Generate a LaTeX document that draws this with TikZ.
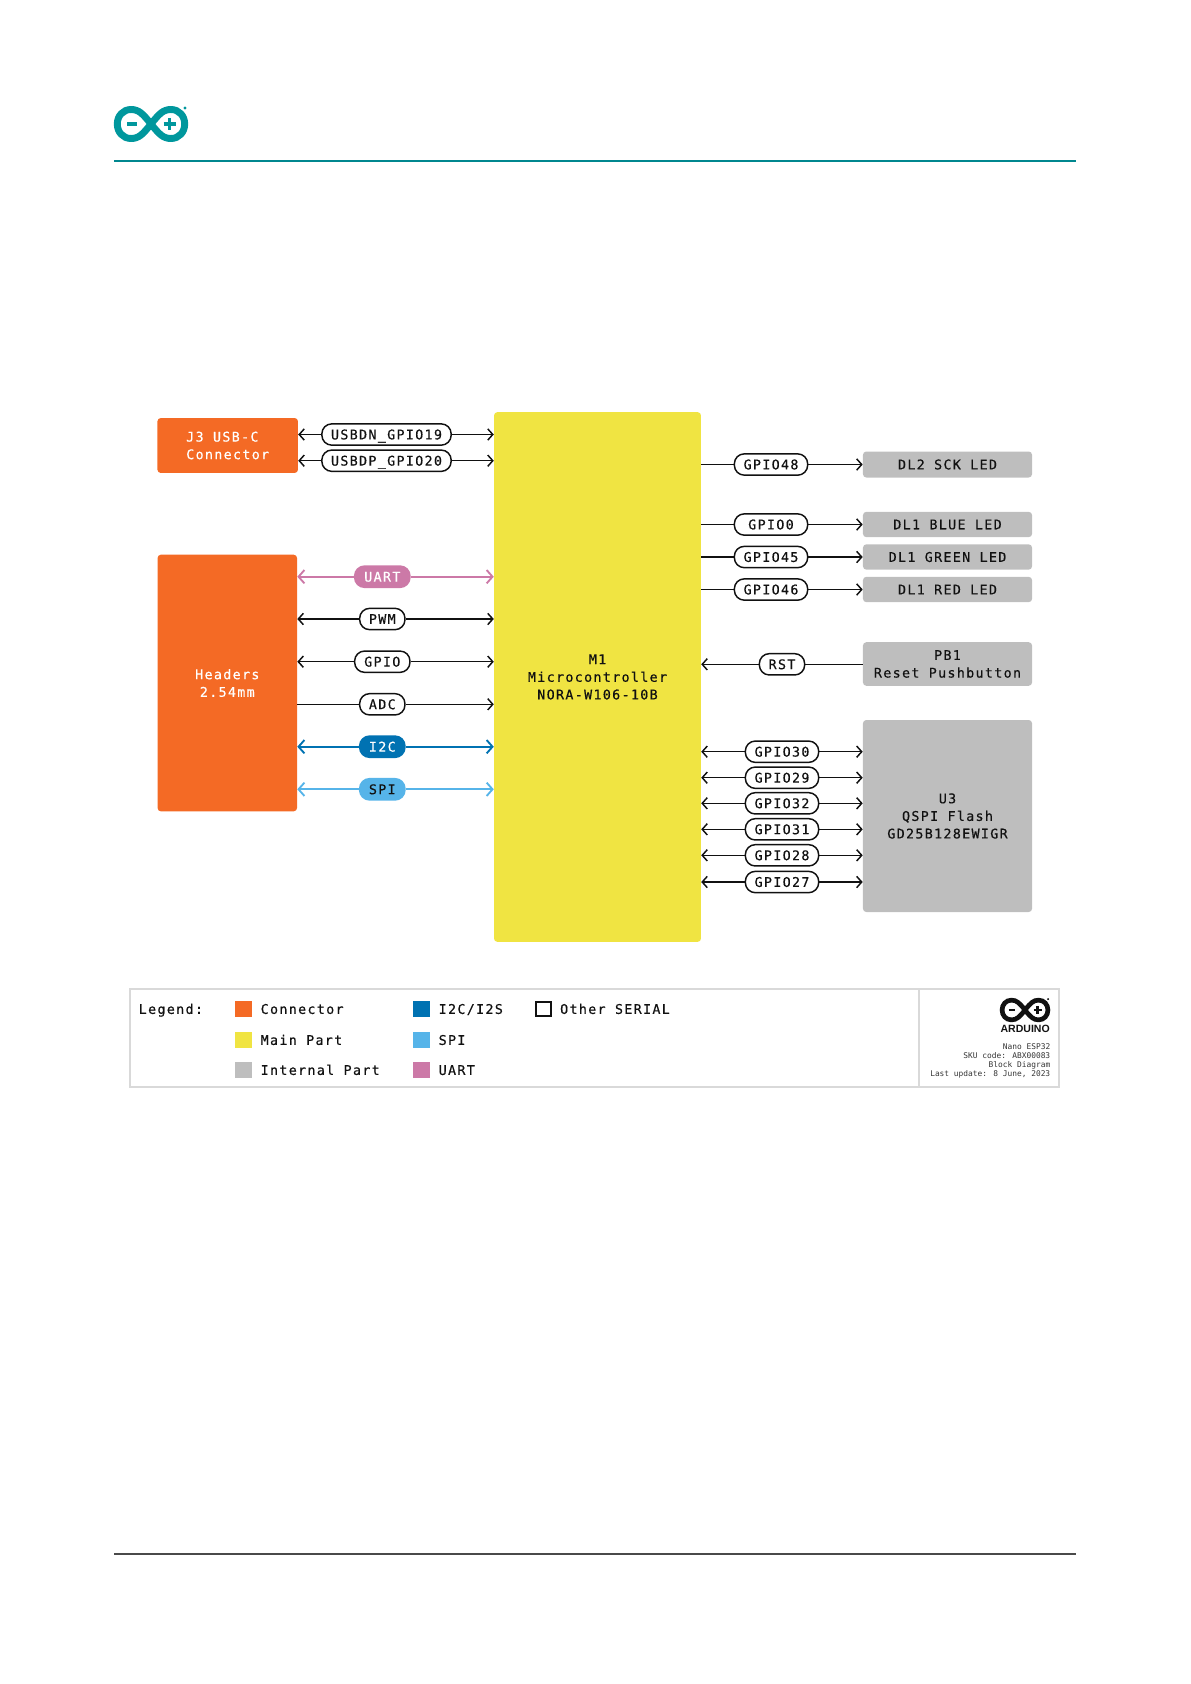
\documentclass[tikz,border=0pt]{standalone}
\usepackage{fontspec}
\usetikzlibrary{arrows.meta}
\setmainfont{Liberation Sans}
\newfontfamily\monofnt[LetterSpace=10,FakeBold=0.4]{DejaVu Sans Mono}
\newfontfamily\tinyfnt{DejaVu Sans Mono}
\definecolor{ardTeal}{HTML}{00979D}
\definecolor{ardRule}{HTML}{00878F}
\definecolor{ardInk}{HTML}{111111}
\definecolor{ardOrange}{HTML}{F46A25}
\definecolor{ardYellow}{HTML}{F0E442}
\definecolor{ardGrey}{HTML}{BEBEBE}
\definecolor{ardBlue}{HTML}{0072B2}
\definecolor{ardSky}{HTML}{56B4E9}
\definecolor{ardPink}{HTML}{CC79A7}
\definecolor{ardFrame}{HTML}{D9D9D9}
\definecolor{ardBase}{HTML}{4A4A4A}
\tikzset{
  prt/.style={rounded corners=2.5pt, inner sep=0pt, align=center, text=ardInk, font=\monofnt\fontsize{10}{13.2}\selectfont},
  prtO/.style={prt, fill=ardOrange, text=white},
  prtY/.style={prt, fill=ardYellow},
  prtG/.style={prt, fill=ardGrey},
  pill/.style={draw=ardInk, fill=white, line width=1.1pt, rounded corners=7.5pt, minimum height=16pt, inner sep=0pt, text height=7.3pt, text depth=0pt, text=ardInk, font=\monofnt\fontsize{10}{12}\selectfont},
  pillC/.style={pill, draw=#1, fill=#1},
  arr/.style={-{Straight Barb[length=3.8pt,width=8.5pt,line width=1.1pt]}, line width=1.1pt, draw=ardInk},
  arrC/.style={-{Straight Barb[length=4.4pt,width=10pt,line width=1.4pt]}, line width=1.4pt, draw=#1},
  leg/.style={anchor=west, inner sep=0pt, text height=7.3pt, text depth=0pt, text=ardInk, font=\monofnt\fontsize{10}{12}\selectfont},
  swatch/.style={minimum width=12.5pt, minimum height=12.5pt, inner sep=0pt, fill=#1},
  foot/.style={anchor=east, inner sep=0pt, text=ardInk!85, font=\tinyfnt\fontsize{5.9}{7}\selectfont},
}
\newcommand{\ArdLogo}[4]{%
  \begin{scope}[shift={#1},scale=#2]
    \draw[#3, line width=#4] (0,0) .. controls (-8,-10) and (-12,-14.5) .. (-20,-14.5)
      .. controls (-28,-14.5) and (-33.7,-8) .. (-33.7,0)
      .. controls (-33.7,8) and (-28,14.5) .. (-20,14.5)
      .. controls (-12,14.5) and (-8,10) .. (0,0)
      .. controls (8,-10) and (12,-14.5) .. (20,-14.5)
      .. controls (28,-14.5) and (33.7,-8) .. (33.7,0)
      .. controls (33.7,8) and (28,14.5) .. (20,14.5)
      .. controls (12,14.5) and (8,10) .. (0,0) -- cycle;
    \draw[#3, line width=0.5*#4] (-24,0) -- (-14,0);
    \draw[#3, line width=0.5*#4] (12.5,0) -- (24.5,0) (18.5,-6) -- (18.5,6);
    \fill[#3] (34,-16) circle (1.6);
  \end{scope}%
}

\begin{document}
\begin{tikzpicture}[x=0.75pt,y=-0.75pt]
    \useasboundingbox (0,0) rectangle (1190,1684);
    % page furniture
    \ArdLogo{(151,124)}{1}{ardTeal}{5.2pt}
    \draw[ardRule, line width=1.2pt] (114,161) -- (1076,161);
    \draw[ardBase, line width=1pt] (114,1554) -- (1076,1554);
    % main blocks
    \node[prtO, align=left, minimum width=105.4pt, minimum height=41.2pt] (j3) at (227.7,445.5) {J3 USB-C\\Connector};
    \node[prtO, minimum width=104.6pt, minimum height=192.5pt] (hdr) at (227.3,683) {Headers\\2.54mm};
    \node[prtY, minimum width=155.2pt, minimum height=397.3pt] (mcu) at (597.5,677) {M1\\Microcontroller\\NORA-W106-10B};
    % outputs on the right
    \foreach \nm/\yy/\ww/\ttl in {dlsck/464.5/19.5/DL2 SCK LED, dlblue/524.5/19/DL1 BLUE LED, dlgreen/557/19/DL1 GREEN LED, dlred/589.5/19/DL1 RED LED} {
        \node[prtG, minimum width=126.8pt, minimum height=\ww pt] (\nm) at (947.5,\yy) {\ttl};
    }
    \node[prtG, minimum width=126.8pt, minimum height=32.7pt] (pb1) at (947.5,664) {PB1\\Reset Pushbutton};
    \node[prtG, minimum width=126.8pt, minimum height=144pt] (u3) at (947.5,816) {U3\\QSPI Flash\\GD25B128EWIGR};
    % usb lines
    \foreach \nm/\yy/\ttl in {usbn/434.5/USBDN\_GPIO19, usbp/460.7/USBDP\_GPIO20} {
        \node[pill, minimum width=97pt] (\nm) at (386.5,\yy) {\ttl};
        \draw[arr] (\nm.west) -- (\nm.west -| j3.east);
        \draw[arr] (\nm.east) -- (\nm.east -| mcu.west);
    }
    % header lines
    \foreach \nm/\yy/\ww/\ttl in {pwm/619/34/PWM, gpio/661.7/41.5/GPIO} {
        \node[pill, minimum width=\ww pt] (\nm) at (382.3,\yy) {\ttl};
        \draw[arr] (\nm.west) -- (\nm.west -| hdr.east);
        \draw[arr] (\nm.east) -- (\nm.east -| mcu.west);
    }
    \node[pill, minimum width=34pt] (adc) at (382.3,704.3) {ADC};
    \draw[arr, -] (adc.west) -- (adc.west -| hdr.east);
    \draw[arr] (adc.east) -- (adc.east -| mcu.west);
    % coloured buses
    \foreach \nm/\yy/\ww/\col/\txt/\ttl in {uart/576.7/41.5/ardPink/white/UART, itwoc/746.7/34/ardBlue/white/I2C, spi/789.3/34/ardSky/ardInk/SPI} {
        \node[pillC=\col, text=\txt, minimum width=\ww pt] (\nm) at (382.3,\yy) {\ttl};
        \draw[arrC=\col] (\nm.west) -- (\nm.west -| hdr.east);
        \draw[arrC=\col] (\nm.east) -- (\nm.east -| mcu.west);
    }
    % led lines
    \coordinate (ledx) at (771,0);
    \foreach \nm/\tgt/\ttl in {pfe/dlsck/GPIO48, pz/dlblue/GPIO0, pff/dlgreen/GPIO45, pfs/dlred/GPIO46} {
        \node[pill, minimum width=55pt] (\nm) at (ledx |- \tgt) {\ttl};
        \draw[arr, -] (\nm.west) -- (\nm.west -| mcu.east);
        \draw[arr] (\nm.east) -- (\nm.east -| \tgt.west);
    }
    % reset
    \node[pill, minimum width=34pt] (rst) at (782,664.3) {RST};
    \draw[arr] (rst.west) -- (rst.west -| mcu.east);
    \draw[arr, -] (rst.east) -- (rst.east -| pb1.west);
    % flash lines
    \foreach \nm/\yy/\ttl in {pto/751.7/GPIO30, ptn/777.7/GPIO29, ptt/803.3/GPIO32, ptu/829.3/GPIO31, pte/855.3/GPIO28, pts/882/GPIO27} {
        \node[pill, minimum width=55pt] (\nm) at (782,\yy) {\ttl};
        \draw[arr] (\nm.west) -- (\nm.west -| mcu.east);
        \draw[arr] (\nm.east) -- (\nm.east -| u3.west);
    }
    % legend
    \draw[ardFrame, line width=0.8pt] (130,989) rectangle (1059,1087);
    \draw[ardFrame, line width=0.8pt] (919,989) -- (919,1087);
    \node[leg] (legt) at (138.5,1009) {Legend:};
    \foreach \nm/\xx/\yy/\col/\ttl in {lcon/243.5/1009/ardOrange/Connector, lmain/243.5/1040/ardYellow/Main Part, lint/243.5/1070/ardGrey/Internal Part, liic/421.5/1009/ardBlue/{I2C/I2S}, lspi/421.5/1040/ardSky/SPI, luart/421.5/1070/ardPink/UART} {
        \node[swatch=\col] (\nm) at (\xx,\yy) {};
        \node[leg] (\nm t) at ([xshift=12.7pt]\nm.center) {\ttl};
    }
    \node[draw=ardInk, line width=1.4pt, minimum width=11pt, minimum height=11pt, inner sep=0pt] (loth) at (543.5,1009) {};
    \node[leg] (loth t) at ([xshift=12.3pt]loth.center) {Other SERIAL};
    % title block
    \ArdLogo{(1025,1010)}{0.68}{ardInk}{3.5pt}
    \node[anchor=east, inner sep=0pt, text=ardInk, font=\bfseries\fontsize{7.9}{8}\selectfont] (ardn) at (1050,1029) {ARDUINO};
    \node[foot] (fa) at (1050.5,1047) {Nano ESP32};
    \node[foot] (fb) at (1050.5,1056) {SKU code: ABX00083};
    \node[foot] (fc) at (1050.5,1065) {Block Diagram};
    \node[foot] (fd) at (1050.5,1074) {Last update: 8 June, 2023};
\end{tikzpicture}
\end{document}
